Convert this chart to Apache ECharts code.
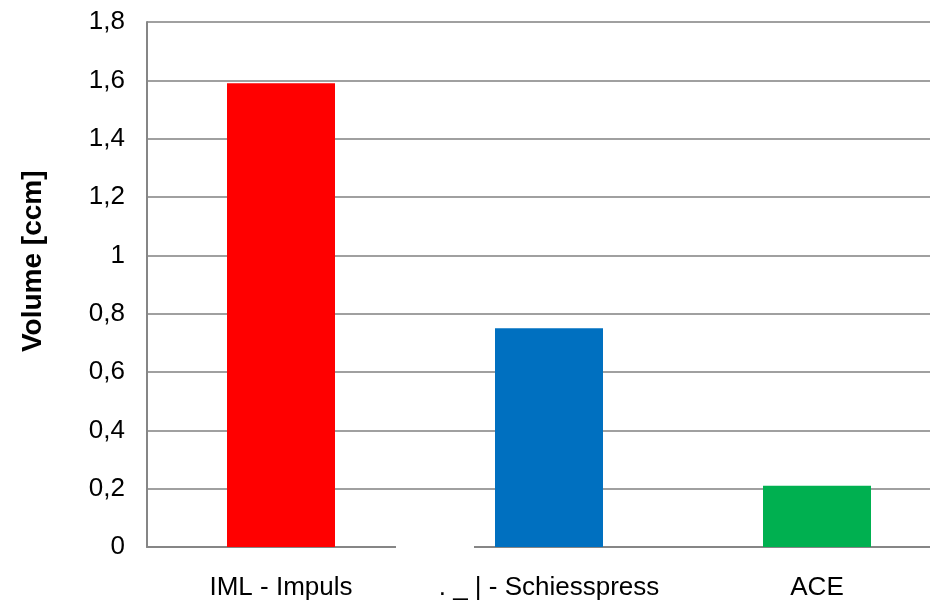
<!DOCTYPE html>
<html>
<head>
<meta charset="utf-8">
<script src="https://cdn.jsdelivr.net/npm/echarts@6/dist/echarts.min.js"></script>
<style>
  html, body { margin: 0; padding: 0; background: #fff; overflow: hidden; }
  #wrap { width: 930px; height: 602px; overflow: hidden; }
  /* plot area runs past the right edge of the frame */
  #chart { width: 951px; height: 602px; }
</style>
</head>
<body>
<div id="wrap"><div id="chart"></div></div>
<script>
// Categories and measured volumes
const categories = ['IML - Impuls', '. _ | - Schiesspress', 'ACE'];
const volumes = [1.59, 0.75, 0.21];
const barColors = ['#FF0000', '#0070C0', '#00B050'];
const yTicks = { min: 0, max: 1.8, interval: 0.2 };

const chart = echarts.init(document.getElementById('chart'), null, { renderer: 'canvas' });

const fontFamily = 'Liberation Sans, Arial, sans-serif';

chart.setOption({
  animation: false,
  grid: { left: 147, right: 0, top: 22, bottom: 55, containLabel: false },
  xAxis: {
    type: 'category',
    data: categories,
    axisLine: { lineStyle: { color: '#868686', width: 2 } },
    axisTick: { show: false },
    axisLabel: { color: '#000', fontSize: 26, fontFamily: fontFamily, margin: 28, interval: 0 }
  },
  yAxis: {
    type: 'value',
    min: yTicks.min,
    max: yTicks.max,
    interval: yTicks.interval,
    axisLine: { show: true, lineStyle: { color: '#868686', width: 2 } },
    axisTick: { show: false },
    splitLine: { lineStyle: { color: '#A0A0A0', width: 2 } },
    axisLabel: {
      color: '#000', fontSize: 26, fontFamily: fontFamily, margin: 22,
      formatter: v => (Math.round(v * 10) / 10).toString().replace('.', ',')
    }
  },
  series: [{
    type: 'bar',
    data: volumes.map((v, i) => ({ value: v, itemStyle: { color: barColors[i] } })),
    barWidth: 108
  }],
  graphic: [
    {
      type: 'text',
      x: 19, y: 352,
      rotation: Math.PI / 2,
      style: {
        text: 'Volume [ccm]',
        font: 'bold 28px ' + fontFamily,
        fill: '#000'
      }
    },
    {
      // break in the category axis line
      type: 'rect',
      shape: { x: 396, y: 544, width: 78, height: 6 },
      style: { fill: '#fff' },
      z: 100
    }
  ]
});
</script>
</body>
</html>
